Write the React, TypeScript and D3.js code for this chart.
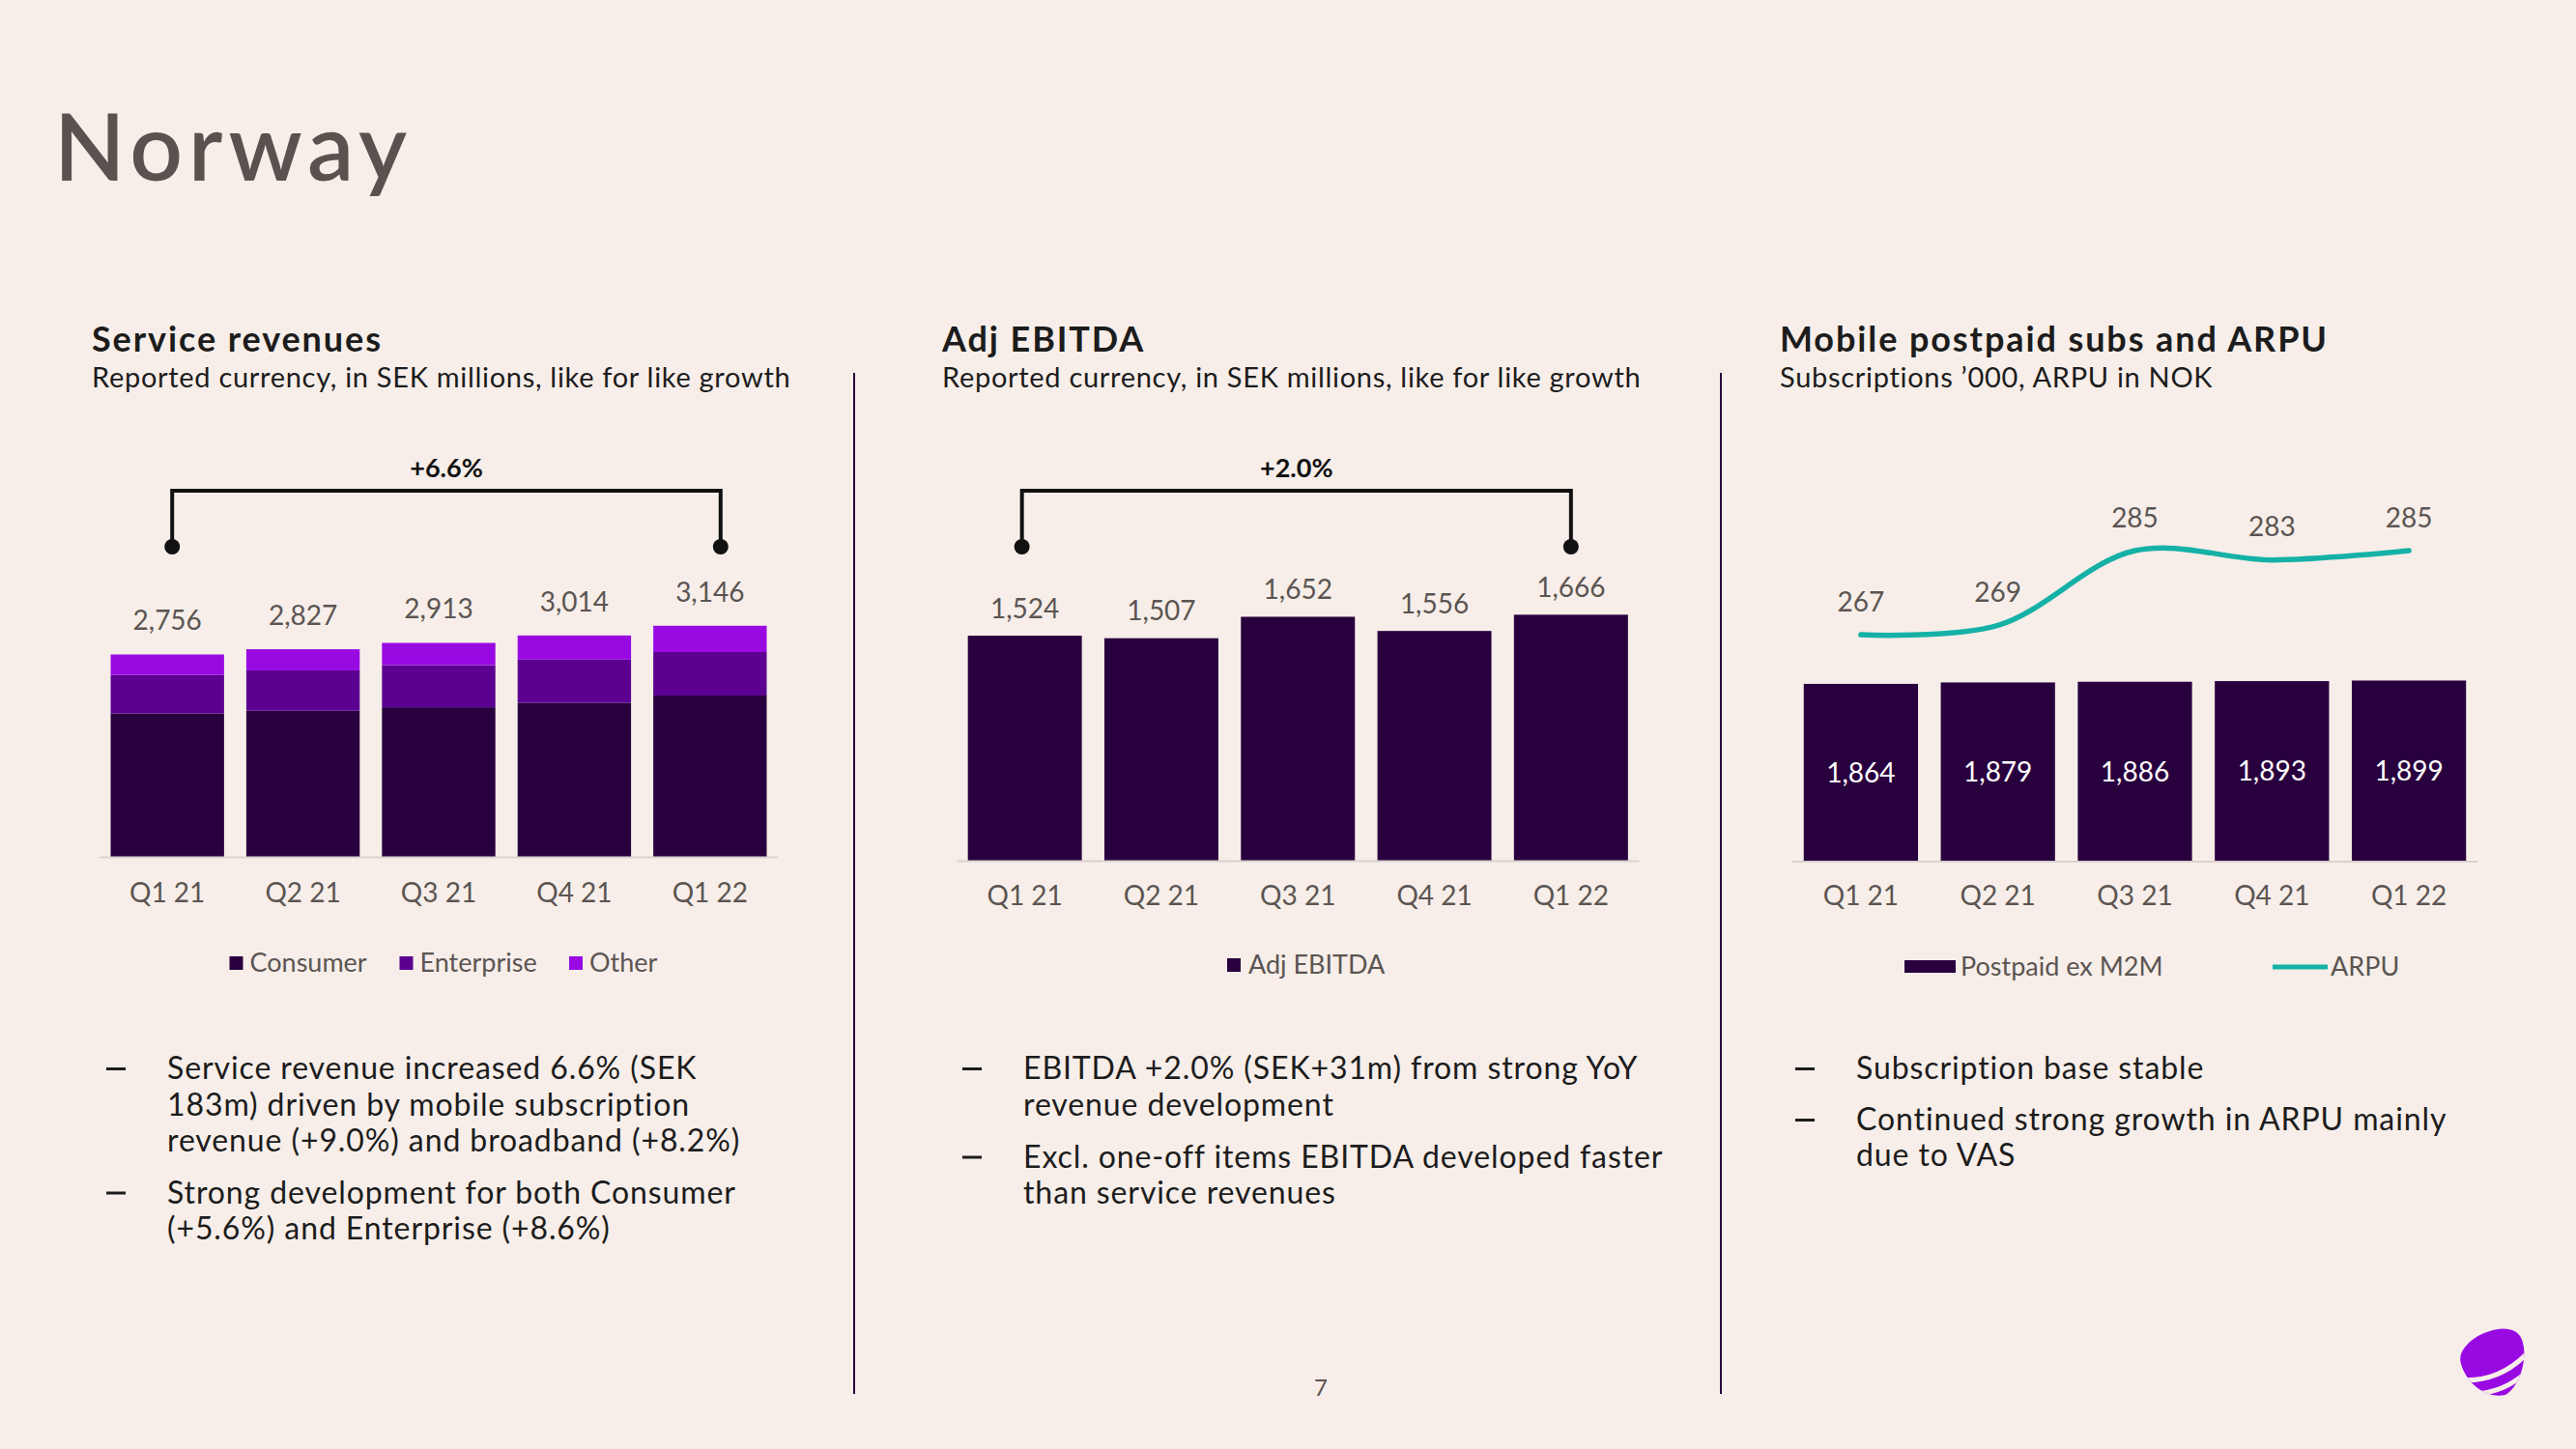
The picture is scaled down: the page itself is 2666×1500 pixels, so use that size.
import React from "react";
import * as d3 from "d3";

// ---------- data ----------
const categories = ["Q1 21", "Q2 21", "Q3 21", "Q4 21", "Q1 22"];
const consumer = [1954, 1992, 2039, 2100, 2198];
const enterprise = [525, 548, 572, 586, 591];
const other = [277, 287, 302, 328, 357];
const serviceTotals = [2756, 2827, 2913, 3014, 3146];
const ebitda = [1524, 1507, 1652, 1556, 1666];
const postpaid = [1864, 1879, 1886, 1893, 1899];
const arpu = [267, 269, 285, 283, 285];
const serviceSeries = ["Consumer", "Enterprise", "Other"];
const serviceGrowth = "+6.6%";
const ebitdaGrowth = "+2.0%";

const bullets1 = [
  ["Service revenue increased 6.6% (SEK", "183m) driven by mobile subscription", "revenue (+9.0%) and broadband (+8.2%)"],
  ["Strong development for both Consumer", "(+5.6%) and Enterprise (+8.6%)"],
];
const bullets2 = [
  ["EBITDA +2.0% (SEK+31m) from strong YoY", "revenue development"],
  ["Excl. one-off items EBITDA developed faster", "than service revenues"],
];
const bullets3 = [["Subscription base stable"], ["Continued strong growth in ARPU mainly", "due to VAS"]];

// ---------- style ----------
const BG = "#F7EEE9";
const C_CONS = "#29003E";
const C_ENT = "#5C0092";
const C_OTH = "#990AE3";
const C_TEAL = "#15B1A6";
const TXT = "#1C1C1C";
const GRAY = "#5B5552";
const FONT = "Lato, 'Open Sans', sans-serif";
const fmt = d3.format(",");

const W = 2666;
const H = 1500;

function Bracket({ x0, x1, label }: { x0: number; x1: number; label: string }) {
  const yTop = 508;
  const yDot = 566;
  return (
    <g>
      <path d={`M${x0},${yDot} V${yTop} H${x1} V${yDot}`} fill="none" stroke="#111" strokeWidth={4} />
      <circle cx={x0} cy={yDot} r={8} fill="#111" />
      <circle cx={x1} cy={yDot} r={8} fill="#111" />
      <text x={(x0 + x1) / 2} y={494} textAnchor="middle" fontSize={27} fontWeight={700} fill="#111">
        {label}
      </text>
    </g>
  );
}

function Bullets({ x, items, lineGap, paraGap }: { x: number; items: string[][]; lineGap: number; paraGap: number }) {
  let y = 1117;
  const out: React.ReactNode[] = [];
  items.forEach((lines, i) => {
    out.push(<rect key={"d" + i} x={x} y={y - 12} width={20} height={3} fill={TXT} />);
    lines.forEach((ln, j) => {
      out.push(
        <text key={`t${i}-${j}`} x={x + 63} y={y} fontSize={32} letterSpacing={0.9} fill={TXT}>
          {ln}
        </text>
      );
      if (j < lines.length - 1) y += lineGap;
    });
    y += paraGap;
  });
  return <g>{out}</g>;
}

export default function App() {
  // ---- chart 1: service revenues (stacked) ----
  const x1 = d3.scaleBand<string>().domain(categories).range([103, 805]).paddingInner(0.164).paddingOuter(0.082);
  const base1 = 887.5;
  const y1 = d3.scaleLinear().domain([0, 3500]).range([base1, base1 - 3500 * 0.0762]);
  const stackData = categories.map((c, i) => ({ cat: c, Consumer: consumer[i], Enterprise: enterprise[i], Other: other[i] }));
  const stacked = d3.stack<any>().keys(serviceSeries)(stackData);
  const stackColors = [C_CONS, C_ENT, C_OTH];

  // ---- chart 2: EBITDA ----
  const x2 = d3.scaleBand<string>().domain(categories).range([990, 1696.5]).paddingInner(0.165).paddingOuter(0.0825);
  const base2 = 891.4;
  const y2 = d3.scaleLinear().domain([0, 2000]).range([base2, base2 - 2000 * 0.1531]);

  // ---- chart 3: postpaid + ARPU ----
  const x3 = d3.scaleBand<string>().domain(categories).range([1855, 2564]).paddingInner(0.166).paddingOuter(0.083);
  const base3 = 892.1;
  const y3 = d3.scaleLinear().domain([0, 2000]).range([base3, base3 - 2000 * 0.0988]);
  const yA = d3.scaleLinear().domain([240, 300]).range([787.8, 497.4]);
  const arpuLine = d3
    .line<number>()
    .x((_, i) => (x3(categories[i]) as number) + x3.bandwidth() / 2)
    .y((d) => yA(d))
    .curve(d3.curveCatmullRom.alpha(0.5));

  const cx = (s: d3.ScaleBand<string>, c: string) => (s(c) as number) + s.bandwidth() / 2;

  return (
    <svg width={W} height={H} viewBox={`0 0 ${W} ${H}`} style={{ display: "block", position: "absolute", left: 0, top: 0 }} fontFamily={FONT}>
      <rect x={0} y={0} width={W} height={H} fill={BG} />

      {/* page title */}
      <text x={56} y={187} fontSize={96} fontWeight={600} letterSpacing={6} fill="#5A524E">
        Norway
      </text>

      {/* section headers */}
      {[
        { x: 95, t: "Service revenues", s: "Reported currency, in SEK millions, like for like growth" },
        { x: 975, t: "Adj EBITDA", s: "Reported currency, in SEK millions, like for like growth" },
        { x: 1842, t: "Mobile postpaid subs and ARPU", s: "Subscriptions ’000, ARPU in NOK" },
      ].map((h) => (
        <g key={h.t}>
          <text x={h.x} y={364} fontSize={36} fontWeight={700} letterSpacing={1.9} fill={TXT}>
            {h.t}
          </text>
          <text x={h.x} y={401} fontSize={29} letterSpacing={0.7} fill={TXT}>
            {h.s}
          </text>
        </g>
      ))}

      {/* dividers */}
      <line x1={884} x2={884} y1={386} y2={1443} stroke={C_CONS} strokeWidth={2} />
      <line x1={1781} x2={1781} y1={386} y2={1443} stroke={C_CONS} strokeWidth={2} />

      {/* ===== chart 1 ===== */}
      <g>
        {stacked.map((layer, li) =>
          layer.map((d, i) => (
            <rect
              key={`${li}-${i}`}
              x={x1(categories[i])}
              width={x1.bandwidth()}
              y={y1(d[1])}
              height={y1(d[0]) - y1(d[1])}
              fill={stackColors[li]}
            />
          ))
        )}
        <line x1={103} x2={805} y1={base1} y2={base1} stroke="#D9D2CE" strokeWidth={2} />
        {categories.map((c, i) => (
          <g key={c}>
            <text x={cx(x1, c)} y={y1(serviceTotals[i]) - 35} dy="0.35em" textAnchor="middle" fontSize={28} fill={GRAY}>
              {fmt(serviceTotals[i])}
            </text>
            <text x={cx(x1, c)} y={924} dy="0.35em" textAnchor="middle" fontSize={28} fill={GRAY}>
              {c}
            </text>
          </g>
        ))}
        <Bracket x0={cx(x1, categories[0]) + 5} x1={cx(x1, categories[4]) + 11} label={serviceGrowth} />
        {serviceSeries.map((s, i) => {
          const lx = [237.5, 413.5, 589][i];
          return (
            <g key={s}>
              <rect x={lx} y={990} width={14} height={14} fill={stackColors[i]} />
              <text x={lx + 21} y={997} dy="0.35em" fontSize={27} fill={GRAY}>
                {s}
              </text>
            </g>
          );
        })}
      </g>

      {/* ===== chart 2 ===== */}
      <g>
        {categories.map((c, i) => (
          <g key={c}>
            <rect x={x2(c)} width={x2.bandwidth()} y={y2(ebitda[i])} height={base2 - y2(ebitda[i])} fill={C_CONS} />
            <text x={cx(x2, c)} y={y2(ebitda[i]) - 28} dy="0.35em" textAnchor="middle" fontSize={28} fill={GRAY}>
              {fmt(ebitda[i])}
            </text>
            <text x={cx(x2, c)} y={927} dy="0.35em" textAnchor="middle" fontSize={28} fill={GRAY}>
              {c}
            </text>
          </g>
        ))}
        <line x1={990} x2={1696.5} y1={base2} y2={base2} stroke="#D9D2CE" strokeWidth={2} />
        <Bracket x0={cx(x2, categories[0]) - 3} x1={cx(x2, categories[4])} label={ebitdaGrowth} />
        <rect x={1270} y={992} width={14} height={14} fill={C_CONS} />
        <text x={1292} y={999} dy="0.35em" fontSize={27} fill={GRAY}>
          Adj EBITDA
        </text>
      </g>

      {/* ===== chart 3 ===== */}
      <g>
        {categories.map((c, i) => (
          <g key={c}>
            <rect x={x3(c)} width={x3.bandwidth()} y={y3(postpaid[i])} height={base3 - y3(postpaid[i])} fill={C_CONS} />
            <text x={cx(x3, c)} y={(y3(postpaid[i]) + base3) / 2} dy="0.35em" textAnchor="middle" fontSize={28} fill="#FFFFFF">
              {fmt(postpaid[i])}
            </text>
            <text x={cx(x3, c)} y={927} dy="0.35em" textAnchor="middle" fontSize={28} fill={GRAY}>
              {c}
            </text>
          </g>
        ))}
        <line x1={1855} x2={2564} y1={base3} y2={base3} stroke="#D9D2CE" strokeWidth={2} />
        <path d={arpuLine(arpu) as string} fill="none" stroke={C_TEAL} strokeWidth={5.5} strokeLinecap="round" />
        {arpu.map((v, i) => (
          <text key={i} x={cx(x3, categories[i])} y={yA(v) - 34} dy="0.35em" textAnchor="middle" fontSize={28} fill={GRAY}>
            {v}
          </text>
        ))}
        <rect x={1971} y={994} width={53} height={13} fill={C_CONS} />
        <text x={2029} y={1001} dy="0.35em" fontSize={27} fill={GRAY}>
          Postpaid ex M2M
        </text>
        <line x1={2352} x2={2409} y1={1001} y2={1001} stroke={C_TEAL} strokeWidth={5} />
        <text x={2412} y={1001} dy="0.35em" fontSize={27} fill={GRAY}>
          ARPU
        </text>
      </g>

      {/* bullets */}
      <Bullets x={110} items={bullets1} lineGap={37.5} paraGap={53.5} />
      <Bullets x={996} items={bullets2} lineGap={37.5} paraGap={54} />
      <Bullets x={1858} items={bullets3} lineGap={37} paraGap={53} />

      {/* page number */}
      <text x={1367} y={1445} textAnchor="middle" fontSize={24} fill="#5A524E">
        7
      </text>

      {/* logo */}
      <defs>
        <clipPath id="pebble">
          <path d="M -34 -2 C -34 -30, 34 -36, 34 -6 C 34 12, 18 38, 0 42 C -20 40, -34 20, -34 -2 Z" />
        </clipPath>
      </defs>
      <g transform="translate(2580,1404) rotate(-18)">
        <g clipPath="url(#pebble)">
          <rect x={-40} y={-45} width={80} height={95} fill={C_OTH} />
          <path d="M -42 12 Q 0 30 42 4" fill="none" stroke={BG} strokeWidth={5} />
          <path d="M -42 27 Q 0 45 42 19" fill="none" stroke={BG} strokeWidth={5} />
        </g>
      </g>
    </svg>
  );
}
